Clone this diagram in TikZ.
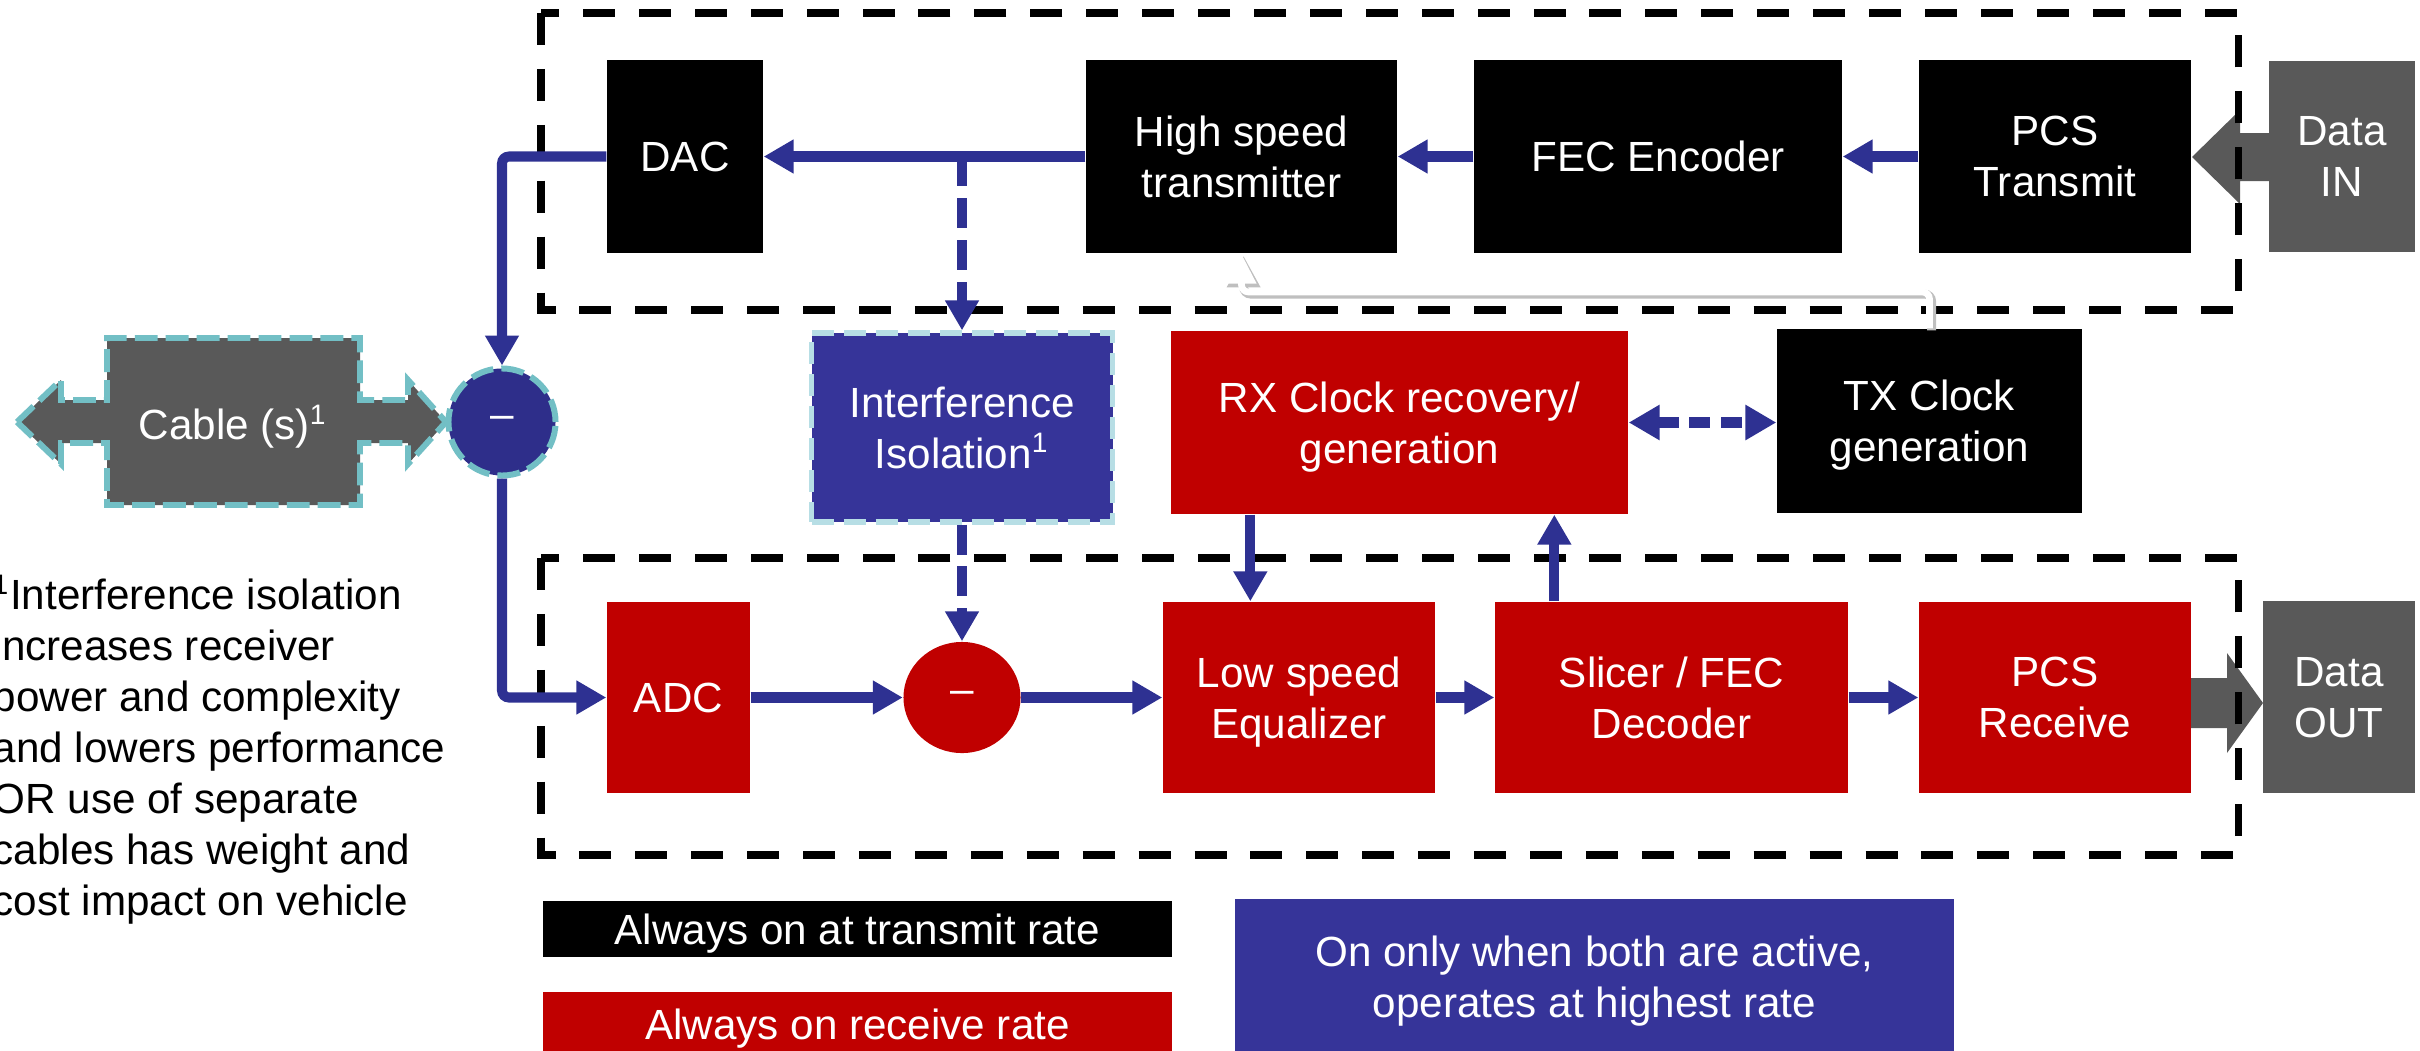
\documentclass[tikz,border=0pt]{standalone}
\usepackage{fontspec}
\setmainfont{Liberation Sans}
\usetikzlibrary{arrows.meta,shapes.geometric}
\definecolor{navy}{RGB}{46,49,146}
\definecolor{boxblue}{RGB}{54,52,153}
\definecolor{circnavy}{RGB}{46,46,138}
\definecolor{rred}{RGB}{192,0,0}
\definecolor{dgrey}{RGB}{89,89,89}
\definecolor{tealx}{RGB}{114,191,197}
\definecolor{ltblue}{RGB}{183,222,229}
\newcommand{\myfs}{\fontsize{12}{14.5}\selectfont}
\begin{document}
\begin{tikzpicture}[x=0.01cm,y=-0.01cm,
  base/.style={rectangle, inner sep=0pt, align=center, text=white, font=\myfs, text depth=0pt},
  blk/.style={base, fill=black},
  redbox/.style={base, fill=rred},
  greybox/.style={base, fill=dgrey},
  sz/.style 2 args={minimum width={#1*0.01cm}, minimum height={#2*0.01cm}},
  arr/.style={draw=navy, line width=2.85pt, -{Triangle[length=8.5pt,width=9.1pt]}},
  darr/.style={arr, dash pattern=on 8.5pt off 3.4pt},
  darrb/.style={draw=navy, line width=2.85pt, dash pattern=on 6pt off 3pt,
     {Triangle[length=8.8pt,width=9.5pt]}-{Triangle[length=8.8pt,width=9.5pt]}},
  frame/.style={draw=black, line width=2pt, dash pattern=on 9.1pt off 6.8pt},
  tealdash/.style={draw=tealx, line width=1.7pt, dash pattern=on 6.5pt off 2.3pt},
  warr/.style={draw=white, line width=1.9pt, -{Triangle[length=8.5pt,width=8pt]}},
  wsh/.style={draw=gray!50, line width=2.5pt, -{Triangle[length=9pt,width=9pt]}}
]
\useasboundingbox (0,0) rectangle (2420,1051);

% grey block arrows
\fill[dgrey] (2269,133) -- (2240,133) -- (2240,110) -- (2192,157) -- (2240,204) -- (2240,181) -- (2269,181) -- cycle;
\fill[dgrey] (2191,678) -- (2227,678) -- (2227,653) -- (2263,703) -- (2227,753) -- (2227,728) -- (2191,728) -- cycle;

% cable shape
\filldraw[fill=dgrey, tealdash] (17,422) -- (61,380) -- (61,400) -- (107,400) -- (107,338) -- (360,338) -- (360,400) -- (408,400) -- (408,380) -- (446,422) -- (408,464) -- (408,443) -- (360,443) -- (360,505) -- (107,505) -- (107,443) -- (61,443) -- (61,464) -- cycle;
\node[base] (cable) at (233,422) {Cable (s)\textsuperscript{1}};

% nodes
\node[blk, sz={156}{193}] (DAC) at (685,156.5) {DAC};
\node[blk, sz={311}{193}] (HST) at (1241.5,156.5) {High speed\\transmitter};
\node[blk, sz={368}{193}] (FEC) at (1658,156.5) {FEC Encoder};
\node[blk, sz={272}{193}] (PCST) at (2055,156.5) {PCS\\Transmit};
\node[greybox, sz={146}{191}] (DIN) at (2342,156.5) {Data\\IN};
\node[circle, fill=circnavy, tealdash, minimum size=1.07cm, inner sep=0pt, text=white, font=\myfs] (C1) at (502,422) {--};
\node[base, fill=boxblue, draw=ltblue, line width=1.5pt, dash pattern=on 6.3pt off 2.8pt, sz={301}{189}] (II) at (962,427.5) {Interference\\Isolation\textsuperscript{1}};
\node[redbox, sz={457}{183}] (RX) at (1399.5,422.5) {RX Clock recovery/\\generation};
\node[blk, sz={305}{184}] (TX) at (1929.5,421) {TX Clock\\generation};
\node[redbox, sz={143}{191}] (ADC) at (678.5,697.5) {ADC};
\node[ellipse, fill=rred, minimum width=1.17cm, minimum height=1.11cm, inner sep=0pt, text=white, font=\myfs] (E) at (962,697.5) {--};
\node[redbox, sz={272}{191}] (LSE) at (1299,697.5) {Low speed\\Equalizer};
\node[redbox, sz={353}{191}] (SL) at (1671.5,697.5) {Slicer / FEC\\Decoder};
\node[redbox, sz={272}{191}] (PCSR) at (2055,697.5) {PCS\\Receive};
\node[greybox, sz={152}{192}] (DOUT) at (2339,697) {Data\\OUT};

% legend
\node[blk, sz={629}{56}] (L1) at (857.5,929) {Always on at transmit rate};
\node[redbox, sz={629}{64}] (L2) at (857.5,1024) {Always on receive rate};
\node[base, fill=boxblue, sz={719}{156}] (L3) at (1594.5,977) {On only when both are active,\\operates at highest rate};

% note
\node[anchor=north west, align=left, inner sep=0pt, font=\myfs] (note) at (-8,574)
 {\textsuperscript{1}Interference isolation\\increases receiver\\power and complexity\\and lowers performance\\OR use of separate\\cables has weight and\\cost impact on vehicle};

% frames
\draw[frame] (541,13) rectangle (2238,310);
\draw[frame] (541,558) rectangle (2238,855);

% connectors
\draw[arr] (HST.west) -- (DAC.east);
\draw[arr] (FEC.west) -- (HST.east);
\draw[arr] (PCST.west) -- (FEC.east);
\coordinate (br) at (962,156.5);
\draw[darr] (br) -- (II.north);
\draw[arr, rounded corners=2pt] (DAC.west) -| (C1.north);
\draw[arr, rounded corners=2pt] (C1.south) |- (ADC.west);
\draw[darr] (II.south) -- (E.north);
\draw[arr] (ADC.east) -- (E.west);
\draw[arr] (E.east) -- (LSE.west);
\draw[arr] (LSE.east) -- (SL.west);
\draw[arr] (SL.east) -- (PCSR.west);
\coordinate (rxd) at ([xshift=0.8cm]RX.south west);
\draw[arr] (rxd) -- (rxd |- LSE.north);
\coordinate (slu) at ([xshift=0.6cm]SL.north west);
\draw[arr] (slu) -- (slu |- RX.south);
\draw[darrb] (RX.east) -- (RX.east -| TX.west);

% white clock arrow
\coordinate (wy) at (0,292);
\draw[wsh, rounded corners=2pt, transform canvas={xshift=0.6pt,yshift=-0.6pt}] (TX.north) -- (TX.north |- wy) -| (HST.south);
\draw[warr, rounded corners=2pt] (TX.north) -- (TX.north |- wy) -| (HST.south);
\end{tikzpicture}
\end{document}
